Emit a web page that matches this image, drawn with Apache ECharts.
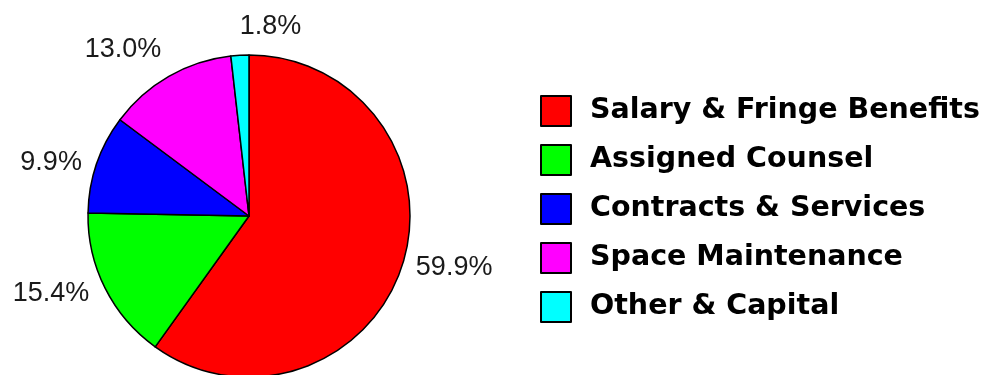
<!DOCTYPE html>
<html>
<head>
<meta charset="utf-8">
<script src="https://cdn.jsdelivr.net/npm/echarts@6/dist/echarts.min.js"></script>
<style>
  html, body { margin: 0; padding: 0; background: #fff; }
  #chart { width: 982px; height: 375px; }
</style>
</head>
<body>
<div id="chart"></div>
<script>
// Budget breakdown (share of total, %)
const categories = [
  'Salary & Fringe Benefits',
  'Assigned Counsel',
  'Contracts & Services',
  'Space Maintenance',
  'Other & Capital'
];
const shares = [59.9, 15.4, 9.9, 13.0, 1.8];
const colors = ['#ff0000', '#00ff00', '#0000ff', '#ff00ff', '#00ffff'];

// Per-slice label placement: [labelLine length, length2, distanceToLabelLine]
const labelPlacement = [
  [9, 0, 5],
  [12, 0, 5],
  [4, 6, 5],
  [31, 0, -8],
  [29, 0, -63]
];

const chart = echarts.init(document.getElementById('chart'));

chart.setOption({
  animation: false,
  backgroundColor: '#fff',
  legend: {
    orient: 'vertical',
    left: 540,
    top: 95,
    padding: 0,
    itemWidth: 30,
    itemHeight: 30,
    itemGap: 17,
    icon: 'rect',
    selectedMode: false,
    itemStyle: { borderColor: '#000', borderWidth: 2 },
    textStyle: {
      fontFamily: 'DejaVu Sans',
      fontWeight: 'bold',
      fontSize: 28.5,
      lineHeight: 30,
      color: '#000',
      padding: [0, 0, 0, 14]
    },
    data: categories
  },
  series: [{
    type: 'pie',
    center: [249, 216],
    radius: 161,
    startAngle: 90,
    clockwise: true,
    avoidLabelOverlap: false,
    itemStyle: { borderColor: '#000', borderWidth: 1.5 },
    label: {
      show: true,
      position: 'outside',
      overflow: 'none',
      formatter: (p) => p.value.toFixed(1) + '%',
      fontFamily: 'Liberation Sans',
      fontSize: 27,
      color: '#1a1a1a'
    },
    labelLine: { show: false },
    data: categories.map((name, i) => ({
      name,
      value: shares[i],
      itemStyle: { color: colors[i] },
      label: { distanceToLabelLine: labelPlacement[i][2] },
      labelLine: { show: false, length: labelPlacement[i][0], length2: labelPlacement[i][1] }
    }))
  }]
});
</script>
</body>
</html>
